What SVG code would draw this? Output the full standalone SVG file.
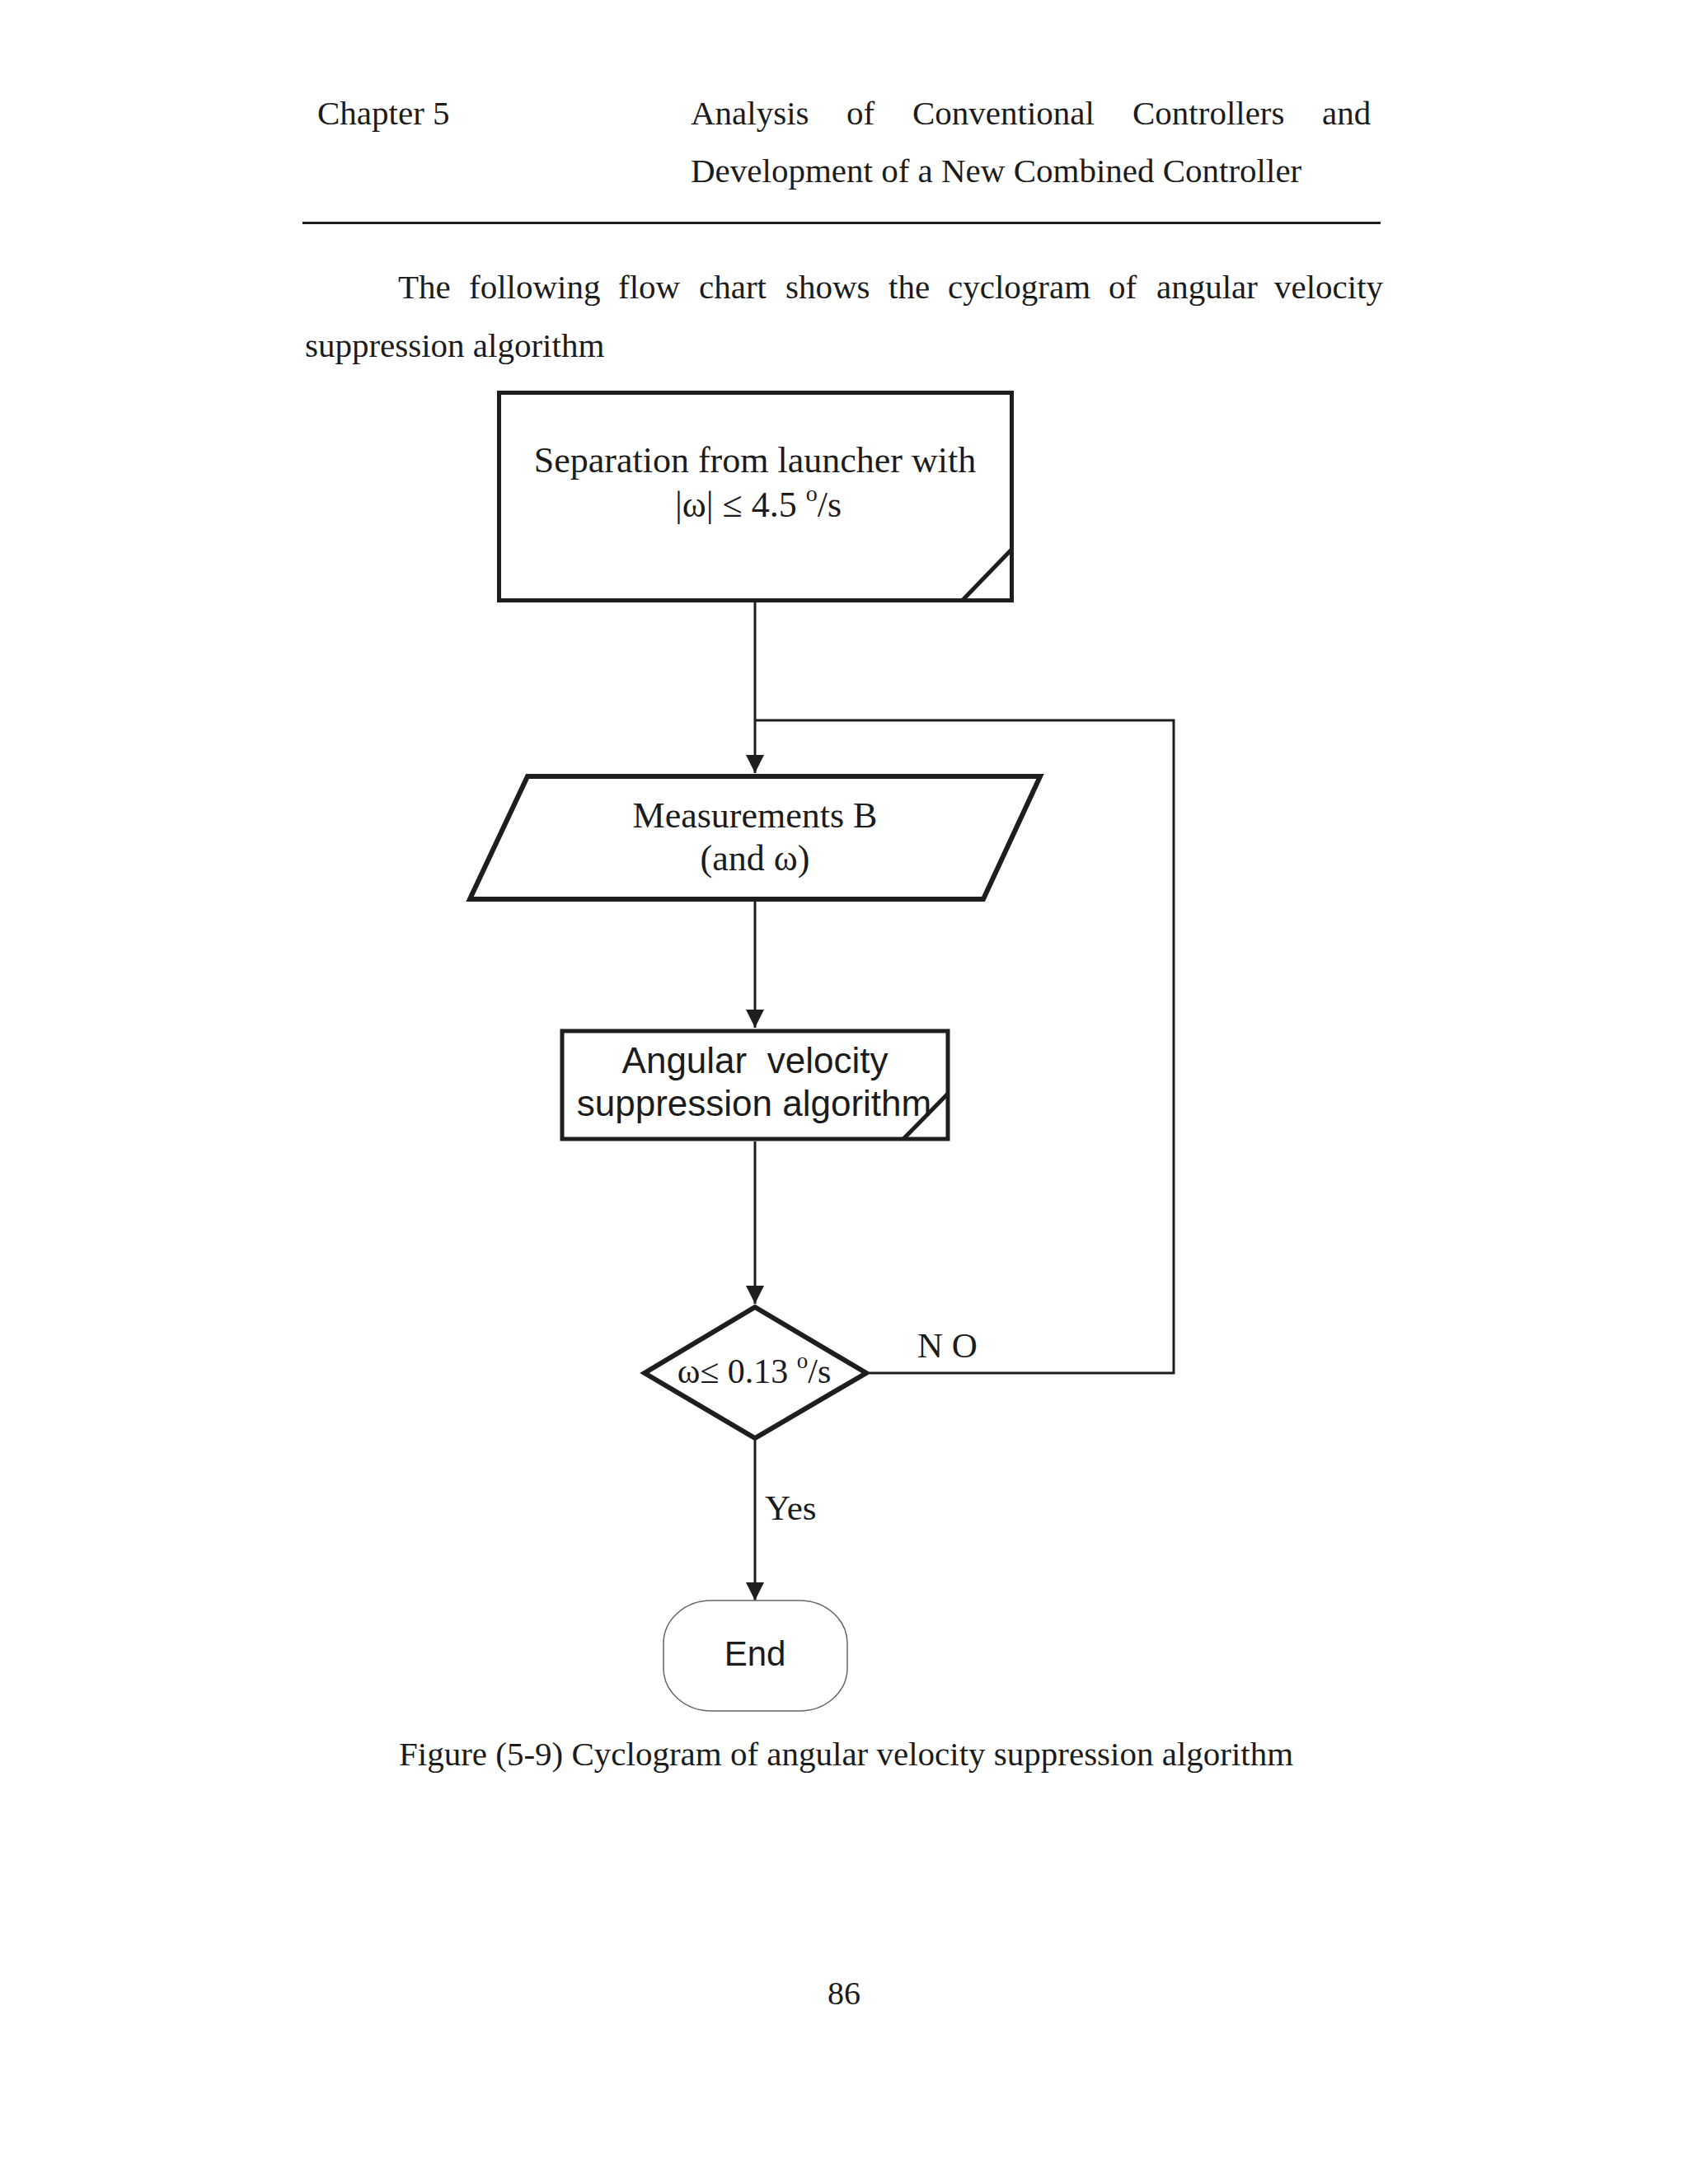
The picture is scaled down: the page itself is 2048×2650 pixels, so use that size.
<svg xmlns="http://www.w3.org/2000/svg" width="2048" height="2650" viewBox="0 0 2048 2650">
<style>
.serif{font-family:"Liberation Serif","Times New Roman",serif;fill:#1c1c1c}
.sans{font-family:"Liberation Sans",Arial,sans-serif;fill:#1c1c1c}
.page{font-size:41px}
.lbl{font-size:44px}
.node{fill:#fff;stroke:#1e1e1e;stroke-linejoin:miter}
.conn{fill:none;stroke:#1e1e1e;stroke-width:3}
</style>
<defs>
<marker id="arr" markerUnits="userSpaceOnUse" markerWidth="24" markerHeight="24" refX="22" refY="11" orient="auto">
<path d="M0,0 L22,11 L0,22 z" fill="#1e1e1e"/>
</marker>
</defs>
<rect width="2048" height="2650" fill="#fff"/>
<g id="header">
<text class="serif page" x="385" y="151">Chapter 5</text>
<text class="serif page" y="151"><tspan x="838">Analysis</tspan><tspan x="1027">of</tspan><tspan x="1107">Conventional</tspan><tspan x="1374">Controllers</tspan><tspan x="1604">and</tspan></text>
<text class="serif page" x="838" y="221">Development of a New Combined Controller</text>
<line x1="367" y1="270.5" x2="1675" y2="270.5" stroke="#1e1e1e" stroke-width="3"/>
</g>
<g id="paragraph">
<text class="serif page" y="362"><tspan x="483">The</tspan><tspan x="569">following</tspan><tspan x="750">flow</tspan><tspan x="848">chart</tspan><tspan x="953">shows</tspan><tspan x="1078">the</tspan><tspan x="1150">cyclogram</tspan><tspan x="1345">of</tspan><tspan x="1403">angular</tspan><tspan x="1546">velocity</tspan></text>
<text class="serif page" x="370" y="433">suppression algorithm</text>
</g>
<g id="connectors">
<path class="conn" d="M916,731 V938" marker-end="url(#arr)"/>
<path class="conn" d="M916,1094 V1247" marker-end="url(#arr)"/>
<path class="conn" d="M916,1385 V1582" marker-end="url(#arr)"/>
<path class="conn" d="M916,1748 V1942" marker-end="url(#arr)"/>
<path class="conn" d="M1055,1666 H1424 V874 H916"/>
<text class="serif" font-size="43" x="1113" y="1647">N O</text>
<text class="serif" font-size="43" x="928" y="1844">Yes</text>
</g>
<g id="node-start">
<rect class="node" x="605.5" y="476.5" width="622" height="252" stroke-width="5"/>
<line x1="1168" y1="728" x2="1227" y2="667" stroke="#1e1e1e" stroke-width="5"/>
<text class="serif lbl" text-anchor="middle" x="916" y="573">Separation from launcher with</text>
<text class="serif lbl" text-anchor="middle" x="920" y="627">|ω| ≤ 4.5 <tspan font-size="28" dy="-19">o</tspan><tspan dy="19">/s</tspan></text>
</g>
<g id="node-measure">
<polygon class="node" points="640,942 1262,942 1193,1091 570,1091" stroke-width="6"/>
<text class="serif lbl" text-anchor="middle" x="916" y="1004">Measurements B</text>
<text class="serif lbl" text-anchor="middle" x="916" y="1056">(and ω)</text>
</g>
<g id="node-algorithm">
<rect class="node" x="682" y="1251" width="468" height="131" stroke-width="5"/>
<line x1="1096" y1="1382" x2="1150" y2="1327" stroke="#1e1e1e" stroke-width="5"/>
<text class="sans lbl" text-anchor="middle" x="916" y="1302" xml:space="preserve" style="white-space:pre">Angular  velocity</text>
<text class="sans lbl" text-anchor="middle" x="915" y="1354">suppression algorithm</text>
</g>
<g id="node-decision">
<polygon class="node" points="916,1586 1051,1666 916,1745 782,1666" stroke-width="6"/>
<text class="serif" font-size="42" text-anchor="middle" x="915" y="1678">ω≤ 0.13 <tspan font-size="27" dy="-18">o</tspan><tspan dy="18">/s</tspan></text>
</g>
<g id="node-end">
<rect x="805" y="1942" width="223" height="134" rx="58" ry="52" fill="#fff" stroke="#666" stroke-width="1.5"/>
<text class="sans" font-size="42" text-anchor="middle" x="916" y="2021">End</text>
</g>
<g id="caption">
<text class="serif page" x="484" y="2142">Figure (5-9) Cyclogram of angular velocity suppression algorithm</text>
<text class="serif" font-size="40" text-anchor="middle" x="1024" y="2432">86</text>
</g>
</svg>
